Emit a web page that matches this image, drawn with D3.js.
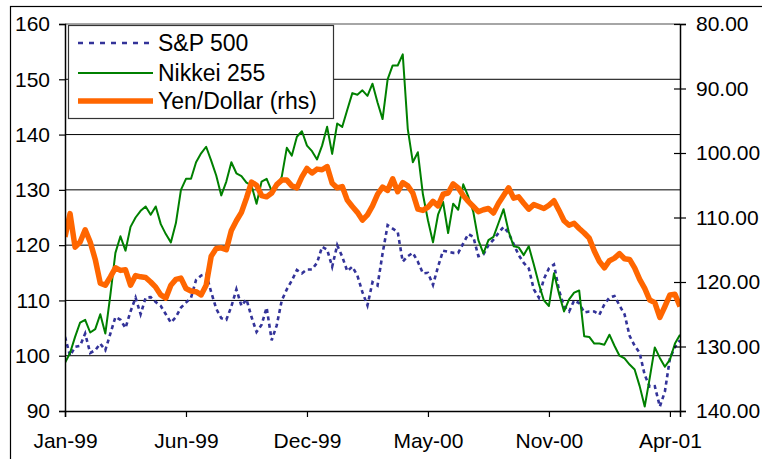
<!DOCTYPE html>
<html>
<head>
<meta charset="utf-8">
<script src="https://cdn.jsdelivr.net/npm/d3@7"></script>
<style>
  html, body { margin: 0; padding: 0; background: #fff; }
  text { font-family: "Liberation Sans", Arial, sans-serif; fill: #000; }
</style>
</head>
<body>
<svg id="chart" width="762" height="459"></svg>
<script>
// ---- Data (weekly observations, Jan-99 .. Apr-01) ----
const tickLabels = ["Jan-99", "Jun-99", "Dec-99", "May-00", "Nov-00", "Apr-01"];
const tickIndex = [0, 24, 48, 72, 96, 120];
const leftTicks = [90, 100, 110, 120, 130, 140, 150, 160];
const rightTicks = [80, 90, 100, 110, 120, 130, 140];
const seriesNames = ["S&P 500", "Nikkei 255", "Yen/Dollar (rhs)"];

const sp500 = [
  103.4,100,101.6,101.8,104,100.5,101,102.2,101,104,
  107,106.5,105,108,110.5,107.5,110.5,110.6,109.7,109,
  107.5,106,107,108.7,109.6,110.5,113.7,114.5,114.8,111.5,
  108.5,106.8,106.5,108.9,112,109,110.2,107,104.3,105.6,
  108.7,102.8,105.5,110,112,113.6,115.5,114.9,115.6,115.6,
  116.8,119.7,119.2,116.1,120,117.9,115.3,116.1,114.5,111.5,
  109.1,113.3,112.7,118.5,123.6,123,122.4,117,118,118.6,
  117,114.9,115,112.8,116.1,119,118.8,118.6,118.6,120.3,
  122,121.5,118,118.3,120,121,122.2,123.3,122.2,120.2,
  118.2,116.8,115.8,112,110.5,113.9,115.8,116.5,111.8,108.9,
  108,110,109.5,107.8,108,108,107.4,109.3,110.5,110.8,
  109.1,107.5,103.6,101.8,100.5,96.5,94.4,94.5,90.8,93.5,
  99.5,101.6,102.8
];

const nikkei = [
  98.7,100.5,103.4,106,106.5,104.2,104.8,107.5,104,111,
  118.6,121.6,119,123.3,125,126.2,127,125.5,127,123.8,
  122,120.5,124,130,132,132,135,136.6,137.8,135.3,
  132.6,129,131.5,135,133,132.5,131.3,130.8,127.5,131.5,
  132,129.8,130.5,132.4,137.6,136.2,139.6,140.6,138,137,
  135.5,138,141.4,136.5,142,141.4,144.5,147.5,147.2,148,
  147,149.2,145.8,142.8,150,152.5,152.5,154.5,141,135,
  136.8,129.2,124.5,120.5,125.5,127.8,122.2,127.5,126.4,131,
  128.8,126,120.9,118.5,120.9,121.5,124,126.5,122.5,119.8,
  119.6,118.2,119.8,116.5,113,110,109,114.9,111.2,108,
  110.2,111.4,111.8,103.5,103.4,102.2,102.2,102,103.8,101.8,
  100,99.5,98.4,97.5,94.5,90.8,96,101.5,99.6,98,
  99.3,102.2,103.8
];

const yenDollar = [
  113,109.4,114.6,113.8,111.9,113.8,116.5,120.2,120.5,119.2,
  117.8,118.2,118.1,120.5,119,119.2,119.3,120,120.8,122,
  122.5,120.5,119.6,119.4,121,121.4,121.5,122,120.5,116,
  114.8,114.7,115,112,110.5,109.2,107,104.5,105,106.6,
  106.8,106.2,104.9,104.2,104.2,105.1,105.4,103.7,102.4,103.1,
  102.5,102.6,102.1,104.7,105.4,105.2,107.3,108.3,109.2,110.4,
  109.6,108.2,106.4,105.3,105.8,104,106,104.6,105.1,106.2,
  108.7,108.9,108.4,107.5,108.2,106.4,106.2,104.8,105.4,106.6,
  107.5,108.3,109.1,108.8,108.6,109.3,107.8,106.6,105.4,107,
  106.8,107.8,108.7,108,108.3,108.6,108.1,107.4,108.9,110.5,
  111.2,110.9,111.7,112.4,113.2,115.2,116.8,117.8,116.7,116.3,
  115.6,116.4,116.5,117.8,119.6,121,122.8,123.2,125.5,123.8,
  122,121.9,123.8
];

// ---- Layout ----
const svg = d3.select("#chart");
const L = 65, R = 680, T = 24, B = 411;

const x = d3.scaleLinear().domain([0, 122]).range([L, R]);
const yL = d3.scaleLinear().domain([90, 160]).range([B, T]);
const yR = d3.scaleLinear().domain([80, 140]).range([T, B]);

svg.append("rect").attr("width", 762).attr("height", 459).attr("fill", "#fff");
// outer chart frame
svg.append("rect").attr("x", 10.5).attr("y", 6.5).attr("width", 800).attr("height", 500)
  .attr("fill", "none").attr("stroke", "#000").attr("stroke-width", 1.2);

// gridlines
svg.append("g").selectAll("line").data(leftTicks.filter(d => d > 90 && d < 160)).join("line")
  .attr("x1", L).attr("x2", R).attr("y1", d => yL(d)).attr("y2", d => yL(d))
  .attr("stroke", "#000").attr("stroke-width", 1);
// top border of plot
svg.append("line").attr("x1", L).attr("x2", R).attr("y1", T).attr("y2", T)
  .attr("stroke", "#888").attr("stroke-width", 1.6);

// series
const clip = svg.append("defs").append("clipPath").attr("id", "clip");
clip.append("rect").attr("x", L).attr("y", T).attr("width", R - L).attr("height", B - T);

const plot = svg.append("g").attr("clip-path", "url(#clip)");
const lineL = d3.line().x((d, i) => x(i)).y(d => yL(d));
const lineR = d3.line().x((d, i) => x(i)).y(d => yR(d));

plot.append("path").datum(sp500).attr("d", lineL)
  .attr("fill", "none").attr("stroke", "#333399").attr("stroke-width", 2.6)
  .attr("stroke-dasharray", "4,3.5");
plot.append("path").datum(nikkei).attr("d", lineL)
  .attr("fill", "none").attr("stroke", "#008000").attr("stroke-width", 2)
  .attr("stroke-linejoin", "round");
plot.append("path").datum(yenDollar).attr("d", lineR)
  .attr("fill", "none").attr("stroke", "#FF6600").attr("stroke-width", 5.5)
  .attr("stroke-linejoin", "round");

// axes
const leftAxis = d3.axisLeft(yL).tickValues(leftTicks).tickSize(6).tickPadding(9)
  .tickFormat(d3.format("d"));
const gL = svg.append("g").attr("transform", `translate(${L},0)`).call(leftAxis);
gL.select(".domain").attr("stroke", "#000").attr("stroke-width", 1.5);
gL.selectAll(".tick line").attr("stroke", "#000").attr("stroke-width", 1.2);
gL.selectAll("text").style("font-size", "21px").style("font-family", "'Liberation Sans', Arial, sans-serif").attr("fill", "#000");

const rightAxis = d3.axisRight(yR).tickValues(rightTicks).tickSize(6).tickPadding(10)
  .tickFormat(d3.format(".2f"));
const gR = svg.append("g").attr("transform", `translate(${R},0)`).call(rightAxis);
gR.select(".domain").attr("stroke", "#000").attr("stroke-width", 1.5);
gR.selectAll(".tick line").attr("x1", -6).attr("stroke", "#000").attr("stroke-width", 1.2);
gR.selectAll("text").style("font-size", "21px").style("font-family", "'Liberation Sans', Arial, sans-serif").attr("fill", "#000");

const bottomAxis = d3.axisBottom(x).tickValues(tickIndex).tickSize(6).tickPadding(16)
  .tickFormat((d, i) => tickLabels[i]);
const gB = svg.append("g").attr("transform", `translate(0,${B})`).call(bottomAxis);
gB.select(".domain").attr("stroke", "#000").attr("stroke-width", 1.5);
gB.selectAll(".tick line").attr("stroke", "#000").attr("stroke-width", 1.2);
gB.selectAll("text").style("font-size", "21px").style("font-family", "'Liberation Sans', Arial, sans-serif").attr("fill", "#000");

// legend
const leg = svg.append("g");
leg.append("rect").attr("x", 68.5).attr("y", 25.5).attr("width", 265).attr("height", 93)
  .attr("fill", "#fff").attr("stroke", "#333").attr("stroke-width", 1.2);
const legendRows = [
  { name: seriesNames[0], color: "#333399", w: 2.6, dash: "5,6", y: 43 },
  { name: seriesNames[1], color: "#008000", w: 2, dash: null, y: 73 },
  { name: seriesNames[2], color: "#FF6600", w: 5.5, dash: null, y: 101 }
];
const rows = leg.selectAll("g.row").data(legendRows).join("g").attr("class", "row");
rows.append("line").attr("x1", 78).attr("x2", 153).attr("y1", d => d.y).attr("y2", d => d.y)
  .attr("stroke", d => d.color).attr("stroke-width", d => d.w)
  .attr("stroke-dasharray", d => d.dash);
rows.append("text").attr("x", 158).attr("y", d => d.y).attr("dy", "0.36em")
  .style("font-size", "23px").text(d => d.name);
</script>
</body>
</html>
